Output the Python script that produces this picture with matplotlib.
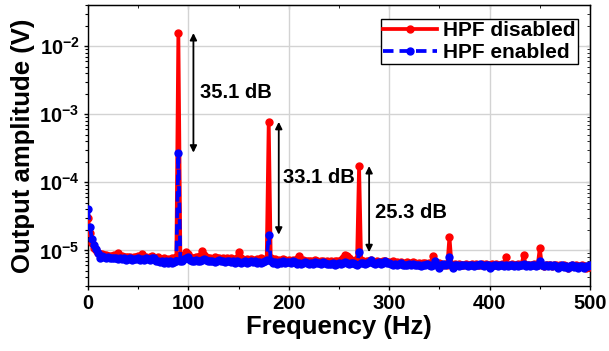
import matplotlib
matplotlib.use('Agg')
import matplotlib.pyplot as plt
import numpy as np
from matplotlib.ticker import FixedLocator, FuncFormatter, LogLocator, MultipleLocator, NullFormatter

plt.rcParams['font.family'] = ['Liberation Sans', 'DejaVu Sans']
plt.rcParams['font.weight'] = 'bold'
plt.rcParams['mathtext.fontset'] = 'custom'
plt.rcParams['mathtext.rm'] = 'Liberation Sans:bold'
plt.rcParams['mathtext.bf'] = 'Liberation Sans:bold'

# spectrum sampled every 2 Hz, amplitudes in microvolts
freq = np.arange(0, 502, 2)

hpf_disabled_uv = [
    30, 18, 13, 11, 10, 9.2, 8.8, 8.9, 8.5, 8.6,
    8.4, 8.3, 8.2, 8.5, 8.1, 9.3, 8.0, 8.2, 7.9, 8.1,
    7.9, 8.0, 7.8, 8.1, 7.9, 8.2, 7.8, 8.9, 7.9, 8.0,
    7.7, 7.9, 8.2, 7.8, 7.6, 8.0, 7.5, 7.4, 7.6, 7.3,
    7.5, 7.2, 7.6, 7.3, 8.0, 15500, 8.5, 7.8, 8.2, 9.6,
    8.9, 8.0, 7.8, 7.6, 8.1, 7.9, 8.3, 9.8, 8.6, 7.9,
    7.7, 7.8, 7.5, 7.9, 7.6, 7.8, 7.4, 7.7, 7.5, 7.6,
    7.4, 7.6, 7.3, 7.5, 7.7, 9.6, 7.6, 7.3, 7.1, 7.4,
    7.2, 7.5, 7.3, 7.0, 7.4, 7.2, 7.6, 7.1, 7.3, 7.6,
    770, 7.8, 7.2, 7.4, 7.0, 7.3, 7.1, 7.5, 7.2, 7.0,
    7.2, 7.0, 7.3, 7.1, 7.5, 8.2, 7.0, 7.2, 6.9, 7.1,
    6.9, 7.1, 6.8, 7.2, 7.0, 6.8, 7.1, 6.9, 6.7, 7.0,
    6.8, 7.0, 6.7, 6.9, 7.1, 6.8, 7.2, 7.6, 8.6, 8.2,
    7.8, 7.2, 6.9, 7.1, 7.4, 173, 7.3, 7.0, 6.8, 7.1,
    6.9, 7.2, 6.8, 6.7, 7.0, 6.8, 6.6, 6.9, 7.1, 6.7,
    6.8, 6.6, 6.9, 6.5, 6.7, 6.6, 6.8, 6.5, 6.4, 6.7,
    6.6, 6.4, 6.7, 6.5, 6.3, 6.6, 6.4, 6.6, 6.5, 6.3,
    6.5, 6.6, 8.4, 6.4, 6.2, 6.5, 6.3, 6.1, 6.4, 6.2,
    15.8, 6.4, 6.0, 6.3, 6.1, 6.4, 6.2, 6.0, 6.3, 6.1,
    6.2, 6.4, 6.1, 6.3, 6.0, 6.2, 6.4, 6.1, 6.3, 6.2,
    6.0, 6.3, 6.1, 6.4, 6.2, 6.0, 6.3, 6.1, 7.9, 6.2,
    6.1, 6.3, 6.0, 6.2, 6.4, 6.1, 6.3, 8.7, 6.0, 6.1,
    6.2, 6.0, 6.3, 6.1, 6.2, 10.8, 6.1, 5.9, 6.2, 6.0,
    6.1, 5.9, 6.2, 6.0, 5.8, 6.1, 5.9, 6.0, 5.8, 5.6,
    5.9, 6.1, 5.8, 6.0, 5.7, 5.9, 6.1, 5.8, 5.6, 5.9,
    5.7,
]

hpf_enabled_uv = [
    40, 22, 14.5, 12, 10.5, 9.0, 7.6, 8.2, 7.9, 7.8,
    7.9, 7.7, 7.8, 7.6, 7.7, 7.5, 7.6, 7.4, 7.6, 7.2,
    7.5, 7.6, 7.3, 7.5, 7.4, 7.7, 7.3, 7.5, 7.2, 7.6,
    7.4, 7.3, 7.6, 7.8, 7.1, 6.9, 6.8, 7.0, 6.6, 6.9,
    6.6, 6.9, 6.5, 6.8, 6.9, 272, 7.0, 6.9, 7.4, 7.8,
    7.9, 7.3, 7.1, 7.0, 7.2, 6.9, 7.1, 7.3, 7.5, 7.2,
    7.0, 6.9, 7.1, 6.8, 7.0, 7.2, 6.9, 7.0, 6.7, 6.9,
    7.1, 6.8, 6.9, 6.6, 7.0, 6.8, 6.5, 6.7, 6.9, 6.6,
    6.8, 7.0, 6.7, 6.9, 6.6, 6.8, 6.5, 6.7, 6.9, 7.2,
    17.0, 7.0, 6.5, 6.7, 6.4, 6.8, 6.6, 6.9, 6.5, 6.7,
    6.8, 6.6, 7.0, 6.7, 6.4, 6.6, 6.3, 6.5, 6.8, 6.6,
    6.4, 6.5, 6.3, 6.7, 6.5, 6.6, 6.4, 6.8, 6.5, 6.3,
    6.4, 6.3, 6.5, 6.2, 6.4, 6.6, 6.3, 6.5, 6.7, 6.6,
    6.4, 6.6, 6.5, 6.3, 6.2, 9.4, 6.5, 6.6, 6.3, 6.5,
    6.7, 7.2, 6.6, 6.4, 6.5, 6.7, 6.4, 6.6, 6.9, 6.5,
    6.6, 6.3, 6.2, 6.4, 6.1, 6.3, 6.5, 6.2, 6.0, 6.2,
    6.4, 6.1, 6.3, 6.0, 6.2, 6.1, 5.9, 6.2, 6.0, 6.3,
    6.1, 5.9, 6.2, 7.0, 6.0, 5.6, 6.1, 6.3, 6.0, 6.4,
    8.0, 6.2, 5.5, 6.0, 6.2, 5.9, 6.1, 6.0, 6.2, 5.9,
    6.1, 6.0, 5.8, 6.2, 6.0, 6.3, 6.1, 5.9, 6.2, 6.0,
    5.5, 5.8, 6.1, 6.0, 5.9, 6.2, 6.0, 5.8, 6.1, 5.9,
    6.0, 6.2, 5.9, 6.1, 5.8, 6.0, 6.2, 6.3, 5.9, 6.0,
    5.9, 6.1, 6.0, 5.8, 6.2, 7.0, 6.1, 5.9, 6.0, 5.8,
    6.0, 5.9, 6.1, 5.8, 5.6, 5.9, 6.0, 5.7, 5.9, 5.5,
    5.8, 6.0, 5.7, 5.9, 5.6, 5.8, 5.9, 5.6, 5.8, 5.9,
    6.0,
]

disabled = np.array(hpf_disabled_uv) * 1e-6
enabled = np.array(hpf_enabled_uv) * 1e-6

# harmonics marked with attenuation arrows: (peak freq, arrow x, label x, label y)
harmonic_freqs = [90, 180, 270]
arrow_x = [105, 190, 280]
label_x = [111.5, 194, 286]
label_y = [2.05e-3, 1.18e-4, 3.64e-5]

fig = plt.figure(figsize=(6.09, 3.51), dpi=100)
ax = fig.add_axes([88 / 609, 1 - 286 / 351, 502 / 609, 281 / 351])

ax.plot(freq, disabled, color='#ff0000', lw=2.7, marker='o', ms=5,
        label='HPF disabled', zorder=3)
ax.plot(freq, enabled, color='#0000ff', lw=2.7, ls=(0, (2.8, 1.6)), marker='o',
        ms=5, label='HPF enabled', zorder=4)

for f0, xa, xl, yl in zip(harmonic_freqs, arrow_x, label_x, label_y):
    i = int(np.where(freq == f0)[0][0])
    top, bottom = disabled[i], enabled[i]
    db = 20 * np.log10(top / bottom)
    ax.annotate('', xy=(xa, bottom), xytext=(xa, top),
                arrowprops=dict(arrowstyle='<|-|>', color='black', lw=1.3,
                                mutation_scale=10, shrinkA=0, shrinkB=0),
                zorder=5)
    ax.text(xl, yl, f'{db:.1f} dB', fontsize=14.5, fontweight='bold',
            ha='left', va='center', zorder=6)

ax.set_yscale('log')
ax.set_xlim(0, 500)
ax.set_ylim(3e-6, 0.04)

ax.xaxis.set_major_locator(MultipleLocator(100))
ax.xaxis.set_minor_locator(MultipleLocator(50))
ax.yaxis.set_major_locator(FixedLocator([1e-5, 1e-4, 1e-3, 1e-2]))
ax.yaxis.set_minor_locator(LogLocator(base=10, subs=np.arange(2, 10)))
ax.yaxis.set_minor_formatter(NullFormatter())
ax.yaxis.set_major_formatter(FuncFormatter(
    lambda v, p: r'$\mathbf{10^{%d}}$' % int(round(np.log10(v)))))

ax.grid(True, which='major', color='#d3d3d3', lw=1.0, zorder=0)
ax.set_axisbelow(True)

ax.tick_params(which='major', direction='out', length=3, width=1,
               labelsize=14.5, pad=3)
ax.tick_params(which='minor', direction='out', length=2, width=0.8)
for lab in ax.get_xticklabels() + ax.get_yticklabels():
    lab.set_fontweight('bold')

# inward ticks on the top and right frame
top_ax = ax.secondary_xaxis('top')
top_ax.xaxis.set_major_locator(MultipleLocator(100))
top_ax.xaxis.set_minor_locator(MultipleLocator(50))
top_ax.tick_params(which='both', direction='in', labeltop=False)
top_ax.tick_params(which='major', length=3)
top_ax.tick_params(which='minor', length=2)
right_ax = ax.secondary_yaxis('right')
right_ax.set_yscale('log')
right_ax.yaxis.set_major_locator(FixedLocator([1e-5, 1e-4, 1e-3, 1e-2]))
right_ax.yaxis.set_minor_locator(LogLocator(base=10, subs=np.arange(2, 10)))
right_ax.tick_params(which='both', direction='in', labelright=False)
right_ax.tick_params(which='major', length=3)
right_ax.tick_params(which='minor', length=2)

for sp in list(ax.spines.values()):
    sp.set_linewidth(1.0)

ax.set_xlabel('Frequency (Hz)', fontsize=18.5, fontweight='bold', labelpad=1)
ax.set_ylabel('Output amplitude (V)', fontsize=18.5, fontweight='bold', labelpad=3)

leg = ax.legend(loc='upper right', bbox_to_anchor=(0.976, 0.95),
                prop={'weight': 'bold', 'size': 15}, numpoints=1,
                handlelength=2.6, handletextpad=0.3, borderpad=0.1,
                labelspacing=0.15, fancybox=False, framealpha=1,
                edgecolor='black', borderaxespad=0)
leg.get_frame().set_linewidth(1.0)

fig.savefig('out.png', dpi=100)
